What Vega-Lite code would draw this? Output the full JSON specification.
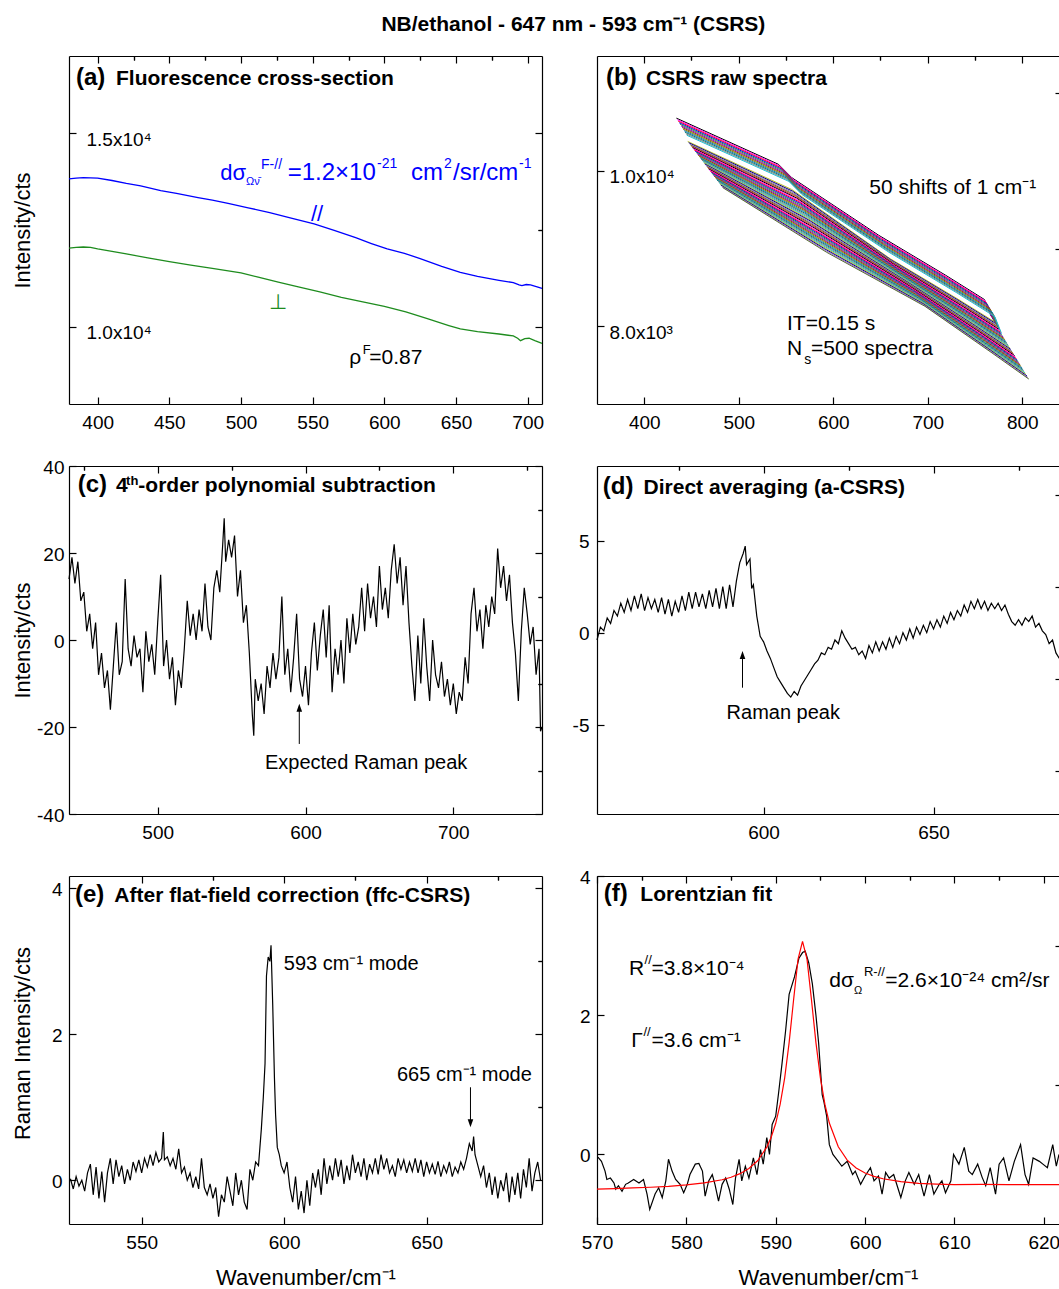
{
"$schema":"https://vega.github.io/schema/vega-lite/v6.json",
"usermeta":{"embedOptions":{"actions":false}},
"padding":{"left":11,"top":14,"right":0,"bottom":0},
"title":{"text":"NB/ethanol - 647 nm - 593 cm⁻¹ (CSRS)","font":"Liberation Sans","fontSize":21,"fontWeight":"bold","color":"#000","anchor":"middle","baseline":"alphabetic","offset":3,"dx":37},
"config":{
 "font":"Liberation Sans",
 "view":{"stroke":null},
 "axis":{"grid":false,"domainColor":"#000","domainWidth":1.2,"tickColor":"#000","tickWidth":1.2,"tickSize":-7,"labelColor":"#000","labelFont":"Liberation Sans","labelFontSize":19,"labelFlush":false,"labelOverlap":false,"titleFont":"Liberation Sans","titleFontSize":22,"titleFontWeight":"normal","titleColor":"#000"},
 "axisX":{"labelPadding":16},
 "text":{"font":"Liberation Sans","fontSize":21,"align":"left","baseline":"alphabetic","color":"#000"}
},
"resolve":{"scale":{"color":"independent"}},
"bounds":"flush",
"align":"each",
"columns":2,
"spacing":{"row":62,"column":55},
"concat":[
{"width":473,"height":348,
"resolve":{"axis":{"x":"independent","y":"independent"}},
"layer":[
{"data":{"values":[
{"p":"par","x":380,"y":13820},{"p":"par","x":385,"y":13840},{"p":"par","x":390,"y":13855},{"p":"par","x":395,"y":13850},{"p":"par","x":400,"y":13840},{"p":"par","x":410,"y":13780},{"p":"par","x":420,"y":13705},{"p":"par","x":430,"y":13640},{"p":"par","x":444,"y":13520},{"p":"par","x":455,"y":13450},{"p":"par","x":470,"y":13340},{"p":"par","x":480,"y":13270},{"p":"par","x":491,"y":13190},{"p":"par","x":505,"y":13075},{"p":"par","x":520,"y":12950},{"p":"par","x":535,"y":12810},{"p":"par","x":551,"y":12660},{"p":"par","x":565,"y":12490},{"p":"par","x":580,"y":12300},{"p":"par","x":591,"y":12150},{"p":"par","x":602,"y":12010},{"p":"par","x":614,"y":11897},{"p":"par","x":625,"y":11760},{"p":"par","x":640,"y":11560},{"p":"par","x":653,"y":11406},{"p":"par","x":665,"y":11300},{"p":"par","x":680,"y":11200},{"p":"par","x":690,"y":11140},{"p":"par","x":694,"y":11080},{"p":"par","x":696,"y":11060},{"p":"par","x":699,"y":11090},{"p":"par","x":702,"y":11080},{"p":"par","x":706,"y":11035},{"p":"par","x":710,"y":10990},
{"p":"perp","x":380,"y":12030},{"p":"perp","x":385,"y":12050},{"p":"perp","x":390,"y":12060},{"p":"perp","x":395,"y":12050},{"p":"perp","x":400,"y":12010},{"p":"perp","x":410,"y":11950},{"p":"perp","x":420,"y":11880},{"p":"perp","x":435,"y":11780},{"p":"perp","x":450,"y":11680},{"p":"perp","x":465,"y":11590},{"p":"perp","x":480,"y":11510},{"p":"perp","x":500,"y":11390},{"p":"perp","x":512,"y":11280},{"p":"perp","x":526,"y":11150},{"p":"perp","x":540,"y":11030},{"p":"perp","x":555,"y":10900},{"p":"perp","x":570,"y":10760},{"p":"perp","x":585,"y":10640},{"p":"perp","x":600,"y":10527},{"p":"perp","x":615,"y":10380},{"p":"perp","x":630,"y":10210},{"p":"perp","x":645,"y":10030},{"p":"perp","x":653,"y":9940},{"p":"perp","x":665,"y":9870},{"p":"perp","x":680,"y":9810},{"p":"perp","x":690,"y":9760},{"p":"perp","x":693,"y":9700},{"p":"perp","x":695,"y":9637},{"p":"perp","x":698,"y":9690},{"p":"perp","x":701,"y":9700},{"p":"perp","x":705,"y":9640},{"p":"perp","x":710,"y":9570}
]},
"mark":{"type":"line","strokeWidth":1.3},
"encoding":{
"x":{"field":"x","type":"quantitative","scale":{"domain":[380,710],"nice":false,"zero":false},"axis":{"values":[400,450,500,550,600,650,700],"title":null}},
"y":{"field":"y","type":"quantitative","scale":{"domain":[8000,17000],"nice":false,"zero":false},"axis":{"values":[10000,15000],"labelExpr":"datum.value == 15000 ? '1.5x10⁴' : '1.0x10⁴'","labelAlign":"left","labelPadding":-10,"labelOffset":6,"title":"Intensity/cts","titleX":-35,"titleY":174,"titleAngle":270,"titleBaseline":"bottom","titleAlign":"center"}},
"color":{"field":"p","type":"nominal","scale":{"domain":["par","perp"],"range":["#0000ff","#1e8c1e"]},"legend":null}}},
{"data":{"values":[{"x":500,"y":12000}]},"mark":{"type":"point","opacity":0},
"encoding":{"x":{"field":"x","type":"quantitative","axis":{"values":[425,475,525,575,625,675],"labels":false,"domain":false,"tickSize":-4,"title":null}},
"y":{"field":"y","type":"quantitative","axis":{"values":[12500],"labels":false,"domain":false,"tickSize":-4,"title":null}}}},
{"data":{"values":[{"x":500,"y":12000}]},"mark":{"type":"point","opacity":0},
"encoding":{"x":{"field":"x","type":"quantitative","axis":{"orient":"top","values":[400,450,500,550,600,650,700],"labels":false,"title":null}},
"y":{"field":"y","type":"quantitative","axis":{"orient":"right","values":[10000,15000],"labels":false,"title":null}}}},
{"data":{"values":[{"x":500,"y":12000}]},"mark":{"type":"point","opacity":0},
"encoding":{"x":{"field":"x","type":"quantitative","axis":{"orient":"top","values":[425,475,525,575,625,675],"labels":false,"domain":false,"tickSize":-4,"title":null}},
"y":{"field":"y","type":"quantitative","axis":{"orient":"right","values":[12500],"labels":false,"domain":false,"tickSize":-4,"title":null}}}},
{"data":{"values":[{"x":384.9,"y":16240,"t":"(a)"}]},"mark":{"type":"text","fontSize":24,"fontWeight":"bold"},
"encoding":{"x":{"field":"x","type":"quantitative","axis":null},"y":{"field":"y","type":"quantitative","axis":null},"text":{"field":"t"}}},
{"data":{"values":[{"x":412.8,"y":16245,"t":"Fluorescence cross-section"}]},"mark":{"type":"text","fontSize":21,"fontWeight":"bold"},
"encoding":{"x":{"field":"x","type":"quantitative","axis":null},"y":{"field":"y","type":"quantitative","axis":null},"text":{"field":"t"}}},
{"data":{"values":[{"x":575.6,"y":9034,"t":"ρ"},{"x":589.5,"y":9034,"t":"=0.87"}]},"mark":{"type":"text","fontSize":21},
"encoding":{"x":{"field":"x","type":"quantitative","axis":null},"y":{"field":"y","type":"quantitative","axis":null},"text":{"field":"t"}}},
{"data":{"values":[{"x":584.9,"y":9293,"t":"F"}]},"mark":{"type":"text","fontSize":13},
"encoding":{"x":{"field":"x","type":"quantitative","axis":null},"y":{"field":"y","type":"quantitative","axis":null},"text":{"field":"t"}}},
{"data":{"values":[{"x":485.6,"y":13793,"t":"dσ"},{"x":548.8,"y":12741,"t":"//"}]},"mark":{"type":"text","fontSize":22,"color":"#0000ff"},
"encoding":{"x":{"field":"x","type":"quantitative","axis":null},"y":{"field":"y","type":"quantitative","axis":null},"text":{"field":"t"}}},
{"data":{"values":[{"x":532.6,"y":13793,"t":"=1.2×10"},{"x":618.6,"y":13793,"t":"cm"},{"x":647.9,"y":13793,"t":"/sr/cm"}]},"mark":{"type":"text","fontSize":24,"color":"#0000ff"},
"encoding":{"x":{"field":"x","type":"quantitative","axis":null},"y":{"field":"y","type":"quantitative","axis":null},"text":{"field":"t"}}},
{"data":{"values":[{"x":514.0,"y":14078,"t":"F-//"},{"x":594.9,"y":14110,"t":"-21"},{"x":641.6,"y":14110,"t":"2"},{"x":694.0,"y":14110,"t":"-1"}]},"mark":{"type":"text","fontSize":14,"color":"#0000ff"},
"encoding":{"x":{"field":"x","type":"quantitative","axis":null},"y":{"field":"y","type":"quantitative","axis":null},"text":{"field":"t"}}},
{"data":{"values":[{"x":503.5,"y":13664,"t":"Ων̄"}]},"mark":{"type":"text","fontSize":11,"color":"#0000ff"},
"encoding":{"x":{"field":"x","type":"quantitative","axis":null},"y":{"field":"y","type":"quantitative","axis":null},"text":{"field":"t"}}},
{"data":{"values":[{"x":525.6,"y":10457,"t":"⊥"}]},"mark":{"type":"text","fontSize":21,"align":"center","color":"#1e8c1e"},
"encoding":{"x":{"field":"x","type":"quantitative","axis":null},"y":{"field":"y","type":"quantitative","axis":null},"text":{"field":"t"}}}
]},
{"width":462,"height":348,
"resolve":{"axis":{"x":"independent","y":"independent"}},
"layer":[
{"data":{"values":[
{"s":0,"x":434,"y":10680},{"s":0,"x":542,"y":10086},{"s":0,"x":556,"y":9915},{"s":0,"x":648,"y":9173},{"s":0,"x":719,"y":8657},{"s":0,"x":760,"y":8345},{"s":0,"x":767,"y":8130},
{"s":1,"x":435,"y":10660},{"s":1,"x":543,"y":10066},{"s":1,"x":557,"y":9895},{"s":1,"x":649,"y":9153},{"s":1,"x":720,"y":8637},{"s":1,"x":761,"y":8325},{"s":1,"x":768,"y":8110},
{"s":2,"x":436,"y":10640},{"s":2,"x":544,"y":10046},{"s":2,"x":558,"y":9875},{"s":2,"x":650,"y":9133},{"s":2,"x":721,"y":8617},{"s":2,"x":762,"y":8305},{"s":2,"x":769,"y":8090},
{"s":3,"x":437,"y":10620},{"s":3,"x":545,"y":10026},{"s":3,"x":559,"y":9855},{"s":3,"x":651,"y":9113},{"s":3,"x":722,"y":8597},{"s":3,"x":763,"y":8285},{"s":3,"x":770,"y":8070},
{"s":4,"x":438,"y":10600},{"s":4,"x":546,"y":10006},{"s":4,"x":560,"y":9835},{"s":4,"x":652,"y":9093},{"s":4,"x":723,"y":8577},{"s":4,"x":764,"y":8265},{"s":4,"x":771,"y":8050},
{"s":5,"x":439,"y":10580},{"s":5,"x":547,"y":9986},{"s":5,"x":561,"y":9815},{"s":5,"x":653,"y":9073},{"s":5,"x":724,"y":8557},{"s":5,"x":765,"y":8245},{"s":5,"x":772,"y":8030},
{"s":6,"x":440,"y":10560},{"s":6,"x":548,"y":9966},{"s":6,"x":562,"y":9795},{"s":6,"x":654,"y":9053},{"s":6,"x":725,"y":8537},{"s":6,"x":766,"y":8225},{"s":6,"x":773,"y":8010},
{"s":7,"x":441,"y":10540},{"s":7,"x":549,"y":9946},{"s":7,"x":563,"y":9775},{"s":7,"x":655,"y":9033},{"s":7,"x":726,"y":8517},{"s":7,"x":767,"y":8205},{"s":7,"x":774,"y":7990},
{"s":8,"x":442,"y":10520},{"s":8,"x":550,"y":9926},{"s":8,"x":564,"y":9755},{"s":8,"x":656,"y":9013},{"s":8,"x":727,"y":8497},{"s":8,"x":768,"y":8185},{"s":8,"x":775,"y":7970},
{"s":9,"x":443,"y":10500},{"s":9,"x":551,"y":9906},{"s":9,"x":565,"y":9735},{"s":9,"x":657,"y":8993},{"s":9,"x":728,"y":8477},{"s":9,"x":769,"y":8165},{"s":9,"x":776,"y":7950},
{"s":10,"x":444,"y":10480},{"s":10,"x":552,"y":9886},{"s":10,"x":566,"y":9715},{"s":10,"x":658,"y":8973},{"s":10,"x":729,"y":8457},{"s":10,"x":770,"y":8145},{"s":10,"x":777,"y":7930},
{"s":11,"x":445,"y":10460},{"s":11,"x":553,"y":9866},{"s":11,"x":567,"y":9695},{"s":11,"x":659,"y":8953},{"s":11,"x":730,"y":8437},{"s":11,"x":771,"y":8125},{"s":11,"x":778,"y":7910},
{"s":12,"x":446,"y":10380},{"s":12,"x":556,"y":9762},{"s":12,"x":660,"y":8873},{"s":12,"x":731,"y":8357},{"s":12,"x":770,"y":8063},
{"s":13,"x":447,"y":10364},{"s":13,"x":557,"y":9740},{"s":13,"x":661,"y":8856},{"s":13,"x":732,"y":8338},{"s":13,"x":771,"y":8043},
{"s":14,"x":448,"y":10348},{"s":14,"x":558,"y":9718},{"s":14,"x":662,"y":8840},{"s":14,"x":733,"y":8319},{"s":14,"x":772,"y":8023},
{"s":15,"x":449,"y":10332},{"s":15,"x":559,"y":9696},{"s":15,"x":663,"y":8823},{"s":15,"x":734,"y":8300},{"s":15,"x":773,"y":8003},
{"s":16,"x":450,"y":10316},{"s":16,"x":560,"y":9675},{"s":16,"x":664,"y":8807},{"s":16,"x":735,"y":8281},{"s":16,"x":774,"y":7983},
{"s":17,"x":451,"y":10300},{"s":17,"x":561,"y":9653},{"s":17,"x":665,"y":8790},{"s":17,"x":736,"y":8263},{"s":17,"x":775,"y":7963},
{"s":18,"x":452,"y":10284},{"s":18,"x":562,"y":9631},{"s":18,"x":666,"y":8773},{"s":18,"x":737,"y":8244},{"s":18,"x":776,"y":7943},
{"s":19,"x":453,"y":10268},{"s":19,"x":563,"y":9609},{"s":19,"x":667,"y":8757},{"s":19,"x":738,"y":8225},{"s":19,"x":777,"y":7923},
{"s":20,"x":454,"y":10252},{"s":20,"x":564,"y":9587},{"s":20,"x":668,"y":8740},{"s":20,"x":739,"y":8206},{"s":20,"x":778,"y":7903},
{"s":21,"x":455,"y":10236},{"s":21,"x":565,"y":9565},{"s":21,"x":669,"y":8724},{"s":21,"x":740,"y":8187},{"s":21,"x":779,"y":7883},
{"s":22,"x":456,"y":10220},{"s":22,"x":566,"y":9543},{"s":22,"x":670,"y":8707},{"s":22,"x":741,"y":8168},{"s":22,"x":780,"y":7862},
{"s":23,"x":457,"y":10203},{"s":23,"x":567,"y":9522},{"s":23,"x":671,"y":8690},{"s":23,"x":742,"y":8149},{"s":23,"x":781,"y":7842},
{"s":24,"x":458,"y":10187},{"s":24,"x":568,"y":9500},{"s":24,"x":672,"y":8674},{"s":24,"x":743,"y":8130},{"s":24,"x":782,"y":7822},
{"s":25,"x":459,"y":10171},{"s":25,"x":569,"y":9478},{"s":25,"x":673,"y":8657},{"s":25,"x":744,"y":8111},{"s":25,"x":783,"y":7802},
{"s":26,"x":460,"y":10155},{"s":26,"x":570,"y":9456},{"s":26,"x":674,"y":8641},{"s":26,"x":745,"y":8092},{"s":26,"x":784,"y":7782},
{"s":27,"x":461,"y":10139},{"s":27,"x":571,"y":9434},{"s":27,"x":675,"y":8624},{"s":27,"x":746,"y":8074},{"s":27,"x":785,"y":7762},
{"s":28,"x":462,"y":10123},{"s":28,"x":572,"y":9412},{"s":28,"x":676,"y":8607},{"s":28,"x":747,"y":8055},{"s":28,"x":786,"y":7742},
{"s":29,"x":463,"y":10107},{"s":29,"x":573,"y":9390},{"s":29,"x":677,"y":8591},{"s":29,"x":748,"y":8036},{"s":29,"x":787,"y":7722},
{"s":30,"x":464,"y":10091},{"s":30,"x":574,"y":9369},{"s":30,"x":678,"y":8574},{"s":30,"x":749,"y":8017},{"s":30,"x":788,"y":7702},
{"s":31,"x":465,"y":10075},{"s":31,"x":575,"y":9347},{"s":31,"x":679,"y":8558},{"s":31,"x":750,"y":7998},{"s":31,"x":789,"y":7682},
{"s":32,"x":466,"y":10059},{"s":32,"x":576,"y":9325},{"s":32,"x":680,"y":8541},{"s":32,"x":751,"y":7979},{"s":32,"x":790,"y":7662},
{"s":33,"x":467,"y":10043},{"s":33,"x":577,"y":9303},{"s":33,"x":681,"y":8524},{"s":33,"x":752,"y":7960},{"s":33,"x":791,"y":7642},
{"s":34,"x":468,"y":10027},{"s":34,"x":578,"y":9281},{"s":34,"x":682,"y":8508},{"s":34,"x":753,"y":7941},{"s":34,"x":792,"y":7622},
{"s":35,"x":469,"y":10011},{"s":35,"x":579,"y":9259},{"s":35,"x":683,"y":8491},{"s":35,"x":754,"y":7922},{"s":35,"x":793,"y":7602},
{"s":36,"x":470,"y":9995},{"s":36,"x":580,"y":9237},{"s":36,"x":684,"y":8475},{"s":36,"x":755,"y":7903},{"s":36,"x":794,"y":7582},
{"s":37,"x":471,"y":9979},{"s":37,"x":581,"y":9216},{"s":37,"x":685,"y":8458},{"s":37,"x":756,"y":7885},{"s":37,"x":795,"y":7562},
{"s":38,"x":472,"y":9963},{"s":38,"x":582,"y":9194},{"s":38,"x":686,"y":8441},{"s":38,"x":757,"y":7866},{"s":38,"x":796,"y":7542},
{"s":39,"x":473,"y":9947},{"s":39,"x":583,"y":9172},{"s":39,"x":687,"y":8425},{"s":39,"x":758,"y":7847},{"s":39,"x":797,"y":7522},
{"s":40,"x":474,"y":9931},{"s":40,"x":584,"y":9150},{"s":40,"x":688,"y":8408},{"s":40,"x":759,"y":7828},{"s":40,"x":798,"y":7502},
{"s":41,"x":475,"y":9915},{"s":41,"x":585,"y":9128},{"s":41,"x":689,"y":8392},{"s":41,"x":760,"y":7809},{"s":41,"x":799,"y":7482},
{"s":42,"x":476,"y":9899},{"s":42,"x":586,"y":9106},{"s":42,"x":690,"y":8375},{"s":42,"x":761,"y":7790},{"s":42,"x":800,"y":7462},
{"s":43,"x":477,"y":9882},{"s":43,"x":587,"y":9084},{"s":43,"x":691,"y":8358},{"s":43,"x":762,"y":7771},{"s":43,"x":801,"y":7441},
{"s":44,"x":478,"y":9866},{"s":44,"x":588,"y":9063},{"s":44,"x":692,"y":8342},{"s":44,"x":763,"y":7752},{"s":44,"x":802,"y":7421},
{"s":45,"x":479,"y":9850},{"s":45,"x":589,"y":9041},{"s":45,"x":693,"y":8325},{"s":45,"x":764,"y":7733},{"s":45,"x":803,"y":7401},
{"s":46,"x":480,"y":9834},{"s":46,"x":590,"y":9019},{"s":46,"x":694,"y":8309},{"s":46,"x":765,"y":7714},{"s":46,"x":804,"y":7381},
{"s":47,"x":481,"y":9818},{"s":47,"x":591,"y":8997},{"s":47,"x":695,"y":8292},{"s":47,"x":766,"y":7696},{"s":47,"x":805,"y":7361},
{"s":48,"x":482,"y":9802},{"s":48,"x":592,"y":8975},{"s":48,"x":696,"y":8275},{"s":48,"x":767,"y":7677},{"s":48,"x":806,"y":7341},
{"s":49,"x":483,"y":9786},{"s":49,"x":593,"y":8953},{"s":49,"x":697,"y":8258},{"s":49,"x":768,"y":7657},{"s":49,"x":807,"y":7321}
]},
"mark":{"type":"line","strokeWidth":1},
"encoding":{
"x":{"field":"x","type":"quantitative","scale":{"domain":[350,838.9],"nice":false,"zero":false},"axis":{"values":[400,500,600,700,800],"title":null}},
"y":{"field":"y","type":"quantitative","scale":{"domain":[7000,11480],"nice":false,"zero":false},"axis":{"values":[8000,10000],"labelExpr":"datum.value == 10000 ? '1.0x10⁴' : '8.0x10³'","labelAlign":"left","labelPadding":-5,"labelOffset":6,"title":null}},
"color":{"field":"s","type":"nominal","scale":{"range":["#000000","#ff00ff","#ff0000","#0000ff","#2ca02c","#9400d3","#8b4513","#808000","#1f77b4","#008080","#7f7f7f","#17becf","#bcbd22","#000080","#9467bd","#556b2f","#d62728"]},"legend":null}}},
{"data":{"values":[{"x":600,"y":9000}]},"mark":{"type":"point","opacity":0},
"encoding":{"x":{"field":"x","type":"quantitative","axis":{"values":[450,550,650,750],"labels":false,"domain":false,"tickSize":-4,"title":null}},
"y":{"field":"y","type":"quantitative","axis":{"values":[9000,11000],"labels":false,"domain":false,"tickSize":-4,"title":null}}}},
{"data":{"values":[{"x":600,"y":9000}]},"mark":{"type":"point","opacity":0},
"encoding":{"x":{"field":"x","type":"quantitative","axis":{"orient":"top","values":[400,500,600,700,800],"labels":false,"title":null}},
"y":{"field":"y","type":"quantitative","axis":null}}},
{"data":{"values":[{"x":600,"y":9000}]},"mark":{"type":"point","opacity":0},
"encoding":{"x":{"field":"x","type":"quantitative","axis":{"orient":"top","values":[450,550,650,750],"labels":false,"domain":false,"tickSize":-4,"title":null}},
"y":{"field":"y","type":"quantitative","axis":null}}},
{"data":{"values":[{"x":359.5,"y":11110,"t":"(b)"}]},"mark":{"type":"text","fontSize":24,"fontWeight":"bold"},
"encoding":{"x":{"field":"x","type":"quantitative","axis":null},"y":{"field":"y","type":"quantitative","axis":null},"text":{"field":"t"}}},
{"data":{"values":[{"x":401.9,"y":11110,"t":"CSRS raw spectra"}]},"mark":{"type":"text","fontSize":21,"fontWeight":"bold"},
"encoding":{"x":{"field":"x","type":"quantitative","axis":null},"y":{"field":"y","type":"quantitative","axis":null},"text":{"field":"t"}}},
{"data":{"values":[{"x":638.2,"y":9703,"t":"50 shifts of 1 cm⁻¹"},{"x":551.1,"y":7953,"t":"IT=0.15 s"},{"x":551.1,"y":7631,"t":"N"},{"x":576.5,"y":7631,"t":"=500 spectra"}]},"mark":{"type":"text","fontSize":21},
"encoding":{"x":{"field":"x","type":"quantitative","axis":null},"y":{"field":"y","type":"quantitative","axis":null},"text":{"field":"t"}}},
{"data":{"values":[{"x":569.4,"y":7515,"t":"s"}]},"mark":{"type":"text","fontSize":14},
"encoding":{"x":{"field":"x","type":"quantitative","axis":null},"y":{"field":"y","type":"quantitative","axis":null},"text":{"field":"t"}}}
]},
{"width":473,"height":348,
"resolve":{"axis":{"x":"independent","y":"independent"}},
"layer":[
{"data":{"values":[
{"x":440,"y":14},{"x":442,"y":19},{"x":444,"y":13},{"x":446,"y":18},{"x":448,"y":9},{"x":450,"y":11},{"x":452,"y":2},{"x":454,"y":6},{"x":456,"y":-2},{"x":458,"y":4},{"x":460,"y":-8},{"x":462,"y":-3},{"x":464,"y":-11},{"x":466,"y":-7},{"x":468,"y":-16},{"x":470,"y":-6},{"x":472,"y":4},{"x":474,"y":-8},{"x":476,"y":-5},{"x":478,"y":14},{"x":480,"y":-2},{"x":482,"y":-6},{"x":484,"y":1},{"x":486,"y":-4},{"x":488,"y":-2},{"x":490,"y":-12},{"x":492,"y":2},{"x":494,"y":-5},{"x":496,"y":-1},{"x":498,"y":-8},{"x":500,"y":4},{"x":502,"y":15},{"x":504,"y":-6},{"x":506,"y":0},{"x":508,"y":-9},{"x":510,"y":-4},{"x":512,"y":-15},{"x":514,"y":-7},{"x":516,"y":-11},{"x":518,"y":-2},{"x":520,"y":9},{"x":522,"y":1},{"x":524,"y":6},{"x":526,"y":0},{"x":528,"y":7},{"x":530,"y":2},{"x":532,"y":13},{"x":534,"y":3},{"x":536,"y":0},{"x":538,"y":12},{"x":540,"y":16},{"x":542,"y":11},{"x":544,"y":22},{"x":545,"y":28},{"x":546,"y":18},{"x":548,"y":23},{"x":550,"y":19},{"x":552,"y":24},{"x":554,"y":10},{"x":556,"y":16},{"x":558,"y":4},{"x":560,"y":8},{"x":562,"y":-3},{"x":564,"y":-17},{"x":565,"y":-22},{"x":566,"y":-9},{"x":568,"y":-14},{"x":570,"y":-10},{"x":572,"y":-17},{"x":574,"y":-6},{"x":576,"y":-11},{"x":578,"y":-3},{"x":580,"y":-9},{"x":582,"y":-4},{"x":584,"y":10},{"x":586,"y":-8},{"x":588,"y":-2},{"x":590,"y":-12},{"x":592,"y":-4},{"x":594,"y":6},{"x":596,"y":-9},{"x":598,"y":-13},{"x":600,"y":-6},{"x":602,"y":-15},{"x":604,"y":-3},{"x":606,"y":4},{"x":608,"y":-7},{"x":610,"y":1},{"x":612,"y":7},{"x":614,"y":-4},{"x":616,"y":8},{"x":618,"y":-12},{"x":620,"y":-2},{"x":622,"y":-8},{"x":624,"y":0},{"x":626,"y":-10},{"x":628,"y":5},{"x":630,"y":-3},{"x":632,"y":6},{"x":634,"y":-1},{"x":636,"y":3},{"x":638,"y":12},{"x":640,"y":2},{"x":642,"y":13},{"x":644,"y":5},{"x":646,"y":10},{"x":648,"y":3},{"x":650,"y":17},{"x":652,"y":7},{"x":654,"y":12},{"x":656,"y":5},{"x":658,"y":16},{"x":660,"y":22},{"x":662,"y":13},{"x":664,"y":19},{"x":666,"y":8},{"x":668,"y":17},{"x":670,"y":4},{"x":672,"y":-6},{"x":674,"y":-14},{"x":676,"y":1},{"x":678,"y":-10},{"x":680,"y":5},{"x":682,"y":-6},{"x":684,"y":-14},{"x":686,"y":0},{"x":688,"y":-8},{"x":690,"y":-11},{"x":692,"y":-5},{"x":694,"y":-13},{"x":696,"y":-9},{"x":698,"y":-15},{"x":700,"y":-10},{"x":702,"y":-17},{"x":704,"y":-12},{"x":706,"y":-14},{"x":708,"y":-4},{"x":710,"y":-10},{"x":712,"y":6},{"x":714,"y":12},{"x":716,"y":2},{"x":718,"y":7},{"x":720,"y":-2},{"x":722,"y":8},{"x":724,"y":3},{"x":726,"y":10},{"x":728,"y":6},{"x":730,"y":21},{"x":732,"y":12},{"x":734,"y":17},{"x":736,"y":9},{"x":738,"y":15},{"x":740,"y":4},{"x":742,"y":-3},{"x":744,"y":-14},{"x":746,"y":2},{"x":748,"y":12},{"x":750,"y":6},{"x":752,"y":-1},{"x":754,"y":3},{"x":756,"y":-8},{"x":758,"y":-2},{"x":759,"y":-21},{"x":760,"y":-20}
]},
"mark":{"type":"line","strokeWidth":1.2,"color":"#000"},
"encoding":{
"x":{"field":"x","type":"quantitative","scale":{"domain":[440,760],"nice":false,"zero":false},"axis":{"values":[500,600,700],"title":null}},
"y":{"field":"y","type":"quantitative","scale":{"domain":[-40,40],"nice":false,"zero":false},"axis":{"values":[-40,-20,0,20,40],"labelExpr":"datum.value + ''","labelPadding":12,"labelOffset":1,"title":"Intensity/cts","titleX":-35,"titleY":174,"titleAngle":270,"titleBaseline":"bottom","titleAlign":"center"}}}},
{"data":{"values":[{"x":600,"y":0}]},"mark":{"type":"point","opacity":0},
"encoding":{"x":{"field":"x","type":"quantitative","axis":{"values":[450,550,650,750],"labels":false,"domain":false,"tickSize":-4,"title":null}},
"y":{"field":"y","type":"quantitative","axis":{"values":[-30,-10,10,30],"labels":false,"domain":false,"tickSize":-4,"title":null}}}},
{"data":{"values":[{"x":600,"y":0}]},"mark":{"type":"point","opacity":0},
"encoding":{"x":{"field":"x","type":"quantitative","axis":{"orient":"top","values":[500,600,700],"labels":false,"title":null}},
"y":{"field":"y","type":"quantitative","axis":{"orient":"right","values":[-40,-20,0,20,40],"labels":false,"title":null}}}},
{"data":{"values":[{"x":600,"y":0}]},"mark":{"type":"point","opacity":0},
"encoding":{"x":{"field":"x","type":"quantitative","axis":{"orient":"top","values":[450,550,650,750],"labels":false,"domain":false,"tickSize":-4,"title":null}},
"y":{"field":"y","type":"quantitative","axis":{"orient":"right","values":[-30,-10,10,30],"labels":false,"domain":false,"tickSize":-4,"title":null}}}},
{"data":{"values":[{"x":445.9,"y":33.95,"t":"(c)"}]},"mark":{"type":"text","fontSize":24,"fontWeight":"bold"},
"encoding":{"x":{"field":"x","type":"quantitative","axis":null},"y":{"field":"y","type":"quantitative","axis":null},"text":{"field":"t"}}},
{"data":{"values":[{"x":471.8,"y":33.95,"t":"4"},{"x":486.9,"y":33.95,"t":"-order polynomial subtraction"}]},"mark":{"type":"text","fontSize":21,"fontWeight":"bold"},
"encoding":{"x":{"field":"x","type":"quantitative","axis":null},"y":{"field":"y","type":"quantitative","axis":null},"text":{"field":"t"}}},
{"data":{"values":[{"x":478.6,"y":35.7,"t":"th"}]},"mark":{"type":"text","fontSize":13,"fontWeight":"bold"},
"encoding":{"x":{"field":"x","type":"quantitative","axis":null},"y":{"field":"y","type":"quantitative","axis":null},"text":{"field":"t"}}},
{"data":{"values":[{"x":641,"y":-29.66,"t":"Expected Raman peak"}]},"mark":{"type":"text","fontSize":20,"align":"center"},
"encoding":{"x":{"field":"x","type":"quantitative","axis":null},"y":{"field":"y","type":"quantitative","axis":null},"text":{"field":"t"}}},
{"data":{"values":[{"x":595.8,"y":-23.9,"y2":-16}]},"mark":{"type":"rule","color":"#000","strokeWidth":1},
"encoding":{"x":{"field":"x","type":"quantitative","axis":null},"y":{"field":"y","type":"quantitative","axis":null},"y2":{"field":"y2"}}},
{"data":{"values":[{"x":595.8,"y":-15.6}]},"mark":{"type":"point","shape":"M0,-1L0.7,1L-0.7,1Z","size":64,"filled":true,"color":"#000","opacity":1},
"encoding":{"x":{"field":"x","type":"quantitative","axis":null},"y":{"field":"y","type":"quantitative","axis":null}}}
]},
{"width":462,"height":348,
"resolve":{"axis":{"x":"independent","y":"independent"}},
"layer":[
{"data":{"values":[
{"x":551,"y":-0.4},{"x":552,"y":0.3},{"x":553,"y":0.1},{"x":554,"y":0.8},{"x":555,"y":0.5},{"x":556,"y":1.2},{"x":557,"y":0.9},{"x":558,"y":1.6},{"x":559,"y":1.1},{"x":560,"y":1.8},{"x":561,"y":1.2},{"x":562,"y":2.0},{"x":563,"y":1.3},{"x":564,"y":2.1},{"x":565,"y":1.2},{"x":566,"y":1.9},{"x":567,"y":1.3},{"x":568,"y":1.8},{"x":569,"y":1.1},{"x":570,"y":1.9},{"x":571,"y":1.0},{"x":572,"y":1.8},{"x":573,"y":0.9},{"x":574,"y":1.7},{"x":575,"y":1.1},{"x":576,"y":2.0},{"x":577,"y":1.2},{"x":578,"y":2.2},{"x":579,"y":1.3},{"x":580,"y":2.2},{"x":581,"y":1.4},{"x":582,"y":2.1},{"x":583,"y":1.3},{"x":584,"y":2.3},{"x":585,"y":1.4},{"x":586,"y":2.4},{"x":587,"y":1.3},{"x":588,"y":2.5},{"x":589,"y":1.3},{"x":590,"y":2.6},{"x":591,"y":1.4},{"x":592,"y":2.8},{"x":593,"y":3.8},{"x":594,"y":4.3},{"x":594.6,"y":4.7},{"x":595,"y":3.7},{"x":596,"y":4.0},{"x":596.5,"y":2.4},{"x":597,"y":2.6},{"x":598,"y":0.9},{"x":599,"y":-0.2},{"x":600,"y":-0.5},{"x":601,"y":-1.0},{"x":602,"y":-1.4},{"x":603,"y":-1.9},{"x":604,"y":-2.4},{"x":605,"y":-2.7},{"x":606,"y":-3.0},{"x":607,"y":-3.3},{"x":608,"y":-3.5},{"x":609,"y":-3.2},{"x":610,"y":-3.4},{"x":611,"y":-2.9},{"x":612,"y":-2.6},{"x":613,"y":-2.3},{"x":614,"y":-2.0},{"x":615,"y":-1.7},{"x":616,"y":-1.5},{"x":617,"y":-1.1},{"x":618,"y":-1.2},{"x":619,"y":-0.8},{"x":620,"y":-0.9},{"x":621,"y":-0.4},{"x":622,"y":-0.6},{"x":623,"y":0.1},{"x":624,"y":-0.3},{"x":625,"y":-0.6},{"x":626,"y":-0.9},{"x":627,"y":-0.8},{"x":628,"y":-1.2},{"x":629,"y":-1.0},{"x":630,"y":-1.4},{"x":631,"y":-0.7},{"x":632,"y":-1.1},{"x":633,"y":-0.5},{"x":634,"y":-1.0},{"x":635,"y":-0.5},{"x":636,"y":-0.9},{"x":637,"y":-0.3},{"x":638,"y":-0.8},{"x":639,"y":-0.2},{"x":640,"y":-0.6},{"x":641,"y":0.0},{"x":642,"y":-0.4},{"x":643,"y":0.2},{"x":644,"y":-0.3},{"x":645,"y":0.3},{"x":646,"y":-0.1},{"x":647,"y":0.4},{"x":648,"y":0.0},{"x":649,"y":0.6},{"x":650,"y":0.2},{"x":651,"y":0.7},{"x":652,"y":0.3},{"x":653,"y":0.9},{"x":654,"y":0.5},{"x":655,"y":1.1},{"x":656,"y":0.7},{"x":657,"y":1.2},{"x":658,"y":0.9},{"x":659,"y":1.5},{"x":660,"y":1.1},{"x":661,"y":1.7},{"x":662,"y":1.3},{"x":663,"y":1.8},{"x":664,"y":1.3},{"x":665,"y":1.7},{"x":666,"y":1.2},{"x":667,"y":1.6},{"x":668,"y":1.3},{"x":669,"y":1.6},{"x":670,"y":1.2},{"x":671,"y":1.5},{"x":672,"y":1.0},{"x":673,"y":0.6},{"x":674,"y":0.4},{"x":675,"y":0.7},{"x":676,"y":0.4},{"x":677,"y":0.8},{"x":678,"y":0.6},{"x":679,"y":0.9},{"x":680,"y":0.3},{"x":681,"y":0.5},{"x":682,"y":0.1},{"x":683,"y":-0.1},{"x":684,"y":-0.6},{"x":685,"y":-0.4},{"x":686,"y":-1.1},{"x":687,"y":-1.4}
]},
"mark":{"type":"line","strokeWidth":1.2,"color":"#000"},
"encoding":{
"x":{"field":"x","type":"quantitative","scale":{"domain":[551,686.9],"nice":false,"zero":false},"axis":{"values":[600,650],"title":null}},
"y":{"field":"y","type":"quantitative","scale":{"domain":[-9.85,9.05],"nice":false,"zero":false},"axis":{"values":[-5,0,5],"labelExpr":"datum.value + ''","labelPadding":15,"labelOffset":1,"title":null}}}},
{"data":{"values":[{"x":600,"y":0}]},"mark":{"type":"point","opacity":0},
"encoding":{"x":{"field":"x","type":"quantitative","axis":{"values":[575,625,675],"labels":false,"domain":false,"tickSize":-4,"title":null}},
"y":{"field":"y","type":"quantitative","axis":{"values":[-7.5,-2.5,2.5,7.5],"labels":false,"domain":false,"tickSize":-4,"title":null}}}},
{"data":{"values":[{"x":600,"y":0}]},"mark":{"type":"point","opacity":0},
"encoding":{"x":{"field":"x","type":"quantitative","axis":{"orient":"top","values":[600,650],"labels":false,"title":null}},
"y":{"field":"y","type":"quantitative","axis":null}}},
{"data":{"values":[{"x":600,"y":0}]},"mark":{"type":"point","opacity":0},
"encoding":{"x":{"field":"x","type":"quantitative","axis":{"orient":"top","values":[575,625,675],"labels":false,"domain":false,"tickSize":-4,"title":null}},
"y":{"field":"y","type":"quantitative","axis":null}}},
{"data":{"values":[{"x":552.7,"y":7.51,"t":"(d)"}]},"mark":{"type":"text","fontSize":24,"fontWeight":"bold"},
"encoding":{"x":{"field":"x","type":"quantitative","axis":null},"y":{"field":"y","type":"quantitative","axis":null},"text":{"field":"t"}}},
{"data":{"values":[{"x":564.7,"y":7.51,"t":"Direct averaging (a-CSRS)"}]},"mark":{"type":"text","fontSize":21,"fontWeight":"bold"},
"encoding":{"x":{"field":"x","type":"quantitative","axis":null},"y":{"field":"y","type":"quantitative","axis":null},"text":{"field":"t"}}},
{"data":{"values":[{"x":605.8,"y":-4.71,"t":"Raman peak"}]},"mark":{"type":"text","fontSize":20,"align":"center"},
"encoding":{"x":{"field":"x","type":"quantitative","axis":null},"y":{"field":"y","type":"quantitative","axis":null},"text":{"field":"t"}}},
{"data":{"values":[{"x":593.8,"y":-2.99,"y2":-1.3}]},"mark":{"type":"rule","color":"#000","strokeWidth":1},
"encoding":{"x":{"field":"x","type":"quantitative","axis":null},"y":{"field":"y","type":"quantitative","axis":null},"y2":{"field":"y2"}}},
{"data":{"values":[{"x":593.8,"y":-1.22}]},"mark":{"type":"point","shape":"M0,-1L0.7,1L-0.7,1Z","size":64,"filled":true,"color":"#000","opacity":1},
"encoding":{"x":{"field":"x","type":"quantitative","axis":null},"y":{"field":"y","type":"quantitative","axis":null}}}
]},
{"width":473,"height":348,
"resolve":{"axis":{"x":"independent","y":"independent"}},
"layer":[
{"data":{"values":[
{"x":525,"y":0.02},{"x":526,"y":-0.12},{"x":527,"y":0.05},{"x":528,"y":-0.08},{"x":529,"y":0.0},{"x":530,"y":-0.15},{"x":531,"y":0.1},{"x":532,"y":0.22},{"x":533,"y":-0.2},{"x":534,"y":0.18},{"x":535,"y":-0.25},{"x":536,"y":0.12},{"x":537,"y":-0.3},{"x":538,"y":0.1},{"x":539,"y":0.3},{"x":540,"y":-0.05},{"x":541,"y":0.28},{"x":542,"y":0.05},{"x":543,"y":0.2},{"x":544,"y":-0.05},{"x":545,"y":0.15},{"x":546,"y":0.0},{"x":547,"y":0.25},{"x":548,"y":0.12},{"x":549,"y":0.28},{"x":550,"y":0.1},{"x":551,"y":0.3},{"x":552,"y":0.18},{"x":553,"y":0.35},{"x":554,"y":0.2},{"x":555,"y":0.38},{"x":556,"y":0.25},{"x":557,"y":0.3},{"x":557.6,"y":0.66},{"x":558,"y":0.28},{"x":559,"y":0.32},{"x":560,"y":0.2},{"x":561,"y":0.3},{"x":562,"y":0.15},{"x":563,"y":0.43},{"x":564,"y":0.1},{"x":565,"y":0.18},{"x":566,"y":0.0},{"x":567,"y":0.1},{"x":568,"y":-0.1},{"x":569,"y":0.05},{"x":570,"y":-0.12},{"x":571,"y":0.3},{"x":572,"y":-0.1},{"x":573,"y":-0.2},{"x":574,"y":-0.05},{"x":575,"y":-0.25},{"x":576,"y":-0.1},{"x":577,"y":-0.5},{"x":578,"y":-0.2},{"x":579,"y":-0.3},{"x":580,"y":0.05},{"x":581,"y":-0.15},{"x":582,"y":-0.35},{"x":583,"y":0.1},{"x":584,"y":-0.2},{"x":585,"y":0.0},{"x":586,"y":-0.3},{"x":587,"y":-0.4},{"x":588,"y":0.15},{"x":589,"y":0.0},{"x":590,"y":0.25},{"x":591,"y":0.2},{"x":591.5,"y":0.45},{"x":592,"y":0.7},{"x":592.7,"y":1.14},{"x":593.3,"y":1.6},{"x":593.8,"y":2.8},{"x":594.4,"y":3.06},{"x":595,"y":3.0},{"x":595.4,"y":3.22},{"x":596,"y":2.4},{"x":596.6,"y":1.4},{"x":597,"y":0.9},{"x":597.6,"y":0.45},{"x":598.3,"y":0.35},{"x":599,"y":0.2},{"x":600,"y":0.1},{"x":601,"y":0.25},{"x":602,"y":-0.1},{"x":603,"y":-0.3},{"x":604,"y":0.05},{"x":605,"y":-0.4},{"x":606,"y":-0.15},{"x":607,"y":-0.45},{"x":608,"y":0.0},{"x":609,"y":-0.35},{"x":610,"y":0.1},{"x":611,"y":-0.1},{"x":612,"y":0.15},{"x":613,"y":-0.2},{"x":614,"y":0.3},{"x":615,"y":-0.05},{"x":616,"y":0.2},{"x":617,"y":0.0},{"x":618,"y":0.3},{"x":619,"y":0.05},{"x":620,"y":0.28},{"x":621,"y":-0.05},{"x":622,"y":0.2},{"x":623,"y":0.0},{"x":624,"y":0.35},{"x":625,"y":0.1},{"x":626,"y":0.25},{"x":627,"y":0.05},{"x":628,"y":0.3},{"x":629,"y":0.0},{"x":630,"y":0.22},{"x":631,"y":0.1},{"x":632,"y":0.3},{"x":633,"y":0.08},{"x":634,"y":0.35},{"x":635,"y":0.15},{"x":636,"y":0.3},{"x":637,"y":0.1},{"x":638,"y":0.2},{"x":639,"y":0.05},{"x":640,"y":0.3},{"x":641,"y":0.15},{"x":642,"y":0.28},{"x":643,"y":0.1},{"x":644,"y":0.25},{"x":645,"y":0.12},{"x":646,"y":0.3},{"x":647,"y":0.1},{"x":648,"y":0.28},{"x":649,"y":0.05},{"x":650,"y":0.25},{"x":651,"y":0.1},{"x":652,"y":0.22},{"x":653,"y":0.08},{"x":654,"y":0.26},{"x":655,"y":0.05},{"x":656,"y":0.2},{"x":657,"y":0.1},{"x":658,"y":0.25},{"x":659,"y":0.05},{"x":660,"y":0.18},{"x":661,"y":0.1},{"x":662,"y":0.25},{"x":663,"y":0.15},{"x":664,"y":0.3},{"x":665,"y":0.5},{"x":666,"y":0.4},{"x":666.5,"y":0.6},{"x":667,"y":0.35},{"x":668,"y":0.2},{"x":669,"y":0.05},{"x":670,"y":0.2},{"x":671,"y":-0.1},{"x":672,"y":0.1},{"x":673,"y":-0.2},{"x":674,"y":0.05},{"x":675,"y":-0.25},{"x":676,"y":0.0},{"x":677,"y":-0.15},{"x":678,"y":0.1},{"x":679,"y":-0.3},{"x":680,"y":0.05},{"x":681,"y":-0.2},{"x":682,"y":0.1},{"x":683,"y":-0.25},{"x":684,"y":0.15},{"x":685,"y":-0.1},{"x":686,"y":0.3},{"x":687,"y":-0.15},{"x":688,"y":0.1},{"x":689,"y":0.25},{"x":690,"y":0.0}
]},
"mark":{"type":"line","strokeWidth":1.2,"color":"#000"},
"encoding":{
"x":{"field":"x","type":"quantitative","scale":{"domain":[524.5,690.5],"nice":false,"zero":false},"axis":{"values":[550,600,650],"title":"Wavenumber/cm⁻¹","titleY":60,"titleBaseline":"alphabetic"}},
"y":{"field":"y","type":"quantitative","scale":{"domain":[-0.6,4.17],"nice":false,"zero":false},"axis":{"values":[0,2,4],"labelPadding":14,"labelOffset":1,"title":"Raman Intensity/cts","titleX":-35,"titleY":167,"titleAngle":270,"titleBaseline":"bottom","titleAlign":"center"}}}},
{"data":{"values":[{"x":600,"y":1}]},"mark":{"type":"point","opacity":0},
"encoding":{"x":{"field":"x","type":"quantitative","axis":{"values":[575,625,675],"labels":false,"domain":false,"tickSize":-4,"title":null}},
"y":{"field":"y","type":"quantitative","axis":{"values":[1,3],"labels":false,"domain":false,"tickSize":-4,"title":null}}}},
{"data":{"values":[{"x":600,"y":1}]},"mark":{"type":"point","opacity":0},
"encoding":{"x":{"field":"x","type":"quantitative","axis":{"orient":"top","values":[550,600,650],"labels":false,"title":null}},
"y":{"field":"y","type":"quantitative","axis":{"orient":"right","values":[0,2,4],"labels":false,"title":null}}}},
{"data":{"values":[{"x":600,"y":1}]},"mark":{"type":"point","opacity":0},
"encoding":{"x":{"field":"x","type":"quantitative","axis":{"orient":"top","values":[575,625,675],"labels":false,"domain":false,"tickSize":-4,"title":null}},
"y":{"field":"y","type":"quantitative","axis":{"orient":"right","values":[1,3],"labels":false,"domain":false,"tickSize":-4,"title":null}}}},
{"data":{"values":[{"x":526.6,"y":3.81,"t":"(e)"}]},"mark":{"type":"text","fontSize":24,"fontWeight":"bold"},
"encoding":{"x":{"field":"x","type":"quantitative","axis":null},"y":{"field":"y","type":"quantitative","axis":null},"text":{"field":"t"}}},
{"data":{"values":[{"x":540.4,"y":3.81,"t":"After flat-field correction (ffc-CSRS)"}]},"mark":{"type":"text","fontSize":21,"fontWeight":"bold"},
"encoding":{"x":{"field":"x","type":"quantitative","axis":null},"y":{"field":"y","type":"quantitative","axis":null},"text":{"field":"t"}}},
{"data":{"values":[{"x":599.9,"y":2.88,"t":"593 cm⁻¹ mode"},{"x":639.6,"y":1.364,"t":"665 cm⁻¹ mode"}]},"mark":{"type":"text","fontSize":20},
"encoding":{"x":{"field":"x","type":"quantitative","axis":null},"y":{"field":"y","type":"quantitative","axis":null},"text":{"field":"t"}}},
{"data":{"values":[{"x":665.4,"y":1.274,"y2":0.8}]},"mark":{"type":"rule","color":"#000","strokeWidth":1},
"encoding":{"x":{"field":"x","type":"quantitative","axis":null},"y":{"field":"y","type":"quantitative","axis":null},"y2":{"field":"y2"}}},
{"data":{"values":[{"x":665.4,"y":0.781}]},"mark":{"type":"point","shape":"M0,1L0.7,-1L-0.7,-1Z","size":64,"filled":true,"color":"#000","opacity":1},
"encoding":{"x":{"field":"x","type":"quantitative","axis":null},"y":{"field":"y","type":"quantitative","axis":null}}}
]},
{"width":462,"height":348,
"resolve":{"axis":{"x":"independent","y":"independent"}},
"layer":[
{"data":{"values":[
{"k":"obs","x":570.1,"y":-0.04},{"k":"obs","x":570.5,"y":-0.1},{"k":"obs","x":570.9,"y":-0.24},{"k":"obs","x":571.1,"y":-0.36},{"k":"obs","x":571.5,"y":-0.34},{"k":"obs","x":571.9,"y":-0.41},{"k":"obs","x":572.1,"y":-0.5},{"k":"obs","x":572.4,"y":-0.45},{"k":"obs","x":572.8,"y":-0.53},{"k":"obs","x":573.2,"y":-0.43},{"k":"obs","x":573.5,"y":-0.41},{"k":"obs","x":574.1,"y":-0.36},{"k":"obs","x":574.7,"y":-0.41},{"k":"obs","x":575.2,"y":-0.36},{"k":"obs","x":575.6,"y":-0.57},{"k":"obs","x":575.9,"y":-0.79},{"k":"obs","x":576.5,"y":-0.57},{"k":"obs","x":576.9,"y":-0.48},{"k":"obs","x":577.3,"y":-0.62},{"k":"obs","x":577.7,"y":-0.38},{"k":"obs","x":578.0,"y":-0.07},{"k":"obs","x":578.4,"y":-0.24},{"k":"obs","x":578.8,"y":-0.36},{"k":"obs","x":579.3,"y":-0.43},{"k":"obs","x":579.7,"y":-0.55},{"k":"obs","x":580.1,"y":-0.43},{"k":"obs","x":580.4,"y":-0.29},{"k":"obs","x":581.0,"y":-0.14},{"k":"obs","x":581.4,"y":-0.13},{"k":"obs","x":581.8,"y":-0.24},{"k":"obs","x":582.1,"y":-0.6},{"k":"obs","x":582.5,"y":-0.38},{"k":"obs","x":582.9,"y":-0.29},{"k":"obs","x":583.2,"y":-0.43},{"k":"obs","x":583.6,"y":-0.67},{"k":"obs","x":584.0,"y":-0.43},{"k":"obs","x":584.4,"y":-0.34},{"k":"obs","x":584.8,"y":-0.5},{"k":"obs","x":585.2,"y":-0.72},{"k":"obs","x":585.5,"y":-0.34},{"k":"obs","x":585.9,"y":-0.07},{"k":"obs","x":586.2,"y":-0.38},{"k":"obs","x":586.6,"y":-0.17},{"k":"obs","x":587.0,"y":-0.34},{"k":"obs","x":587.5,"y":-0.05},{"k":"obs","x":587.9,"y":-0.29},{"k":"obs","x":588.3,"y":0.07},{"k":"obs","x":588.6,"y":-0.14},{"k":"obs","x":589.0,"y":0.24},{"k":"obs","x":589.3,"y":0.0},{"k":"obs","x":589.6,"y":0.43},{"k":"obs","x":590.0,"y":0.55},{"k":"obs","x":590.3,"y":0.86},{"k":"obs","x":590.7,"y":1.3},{"k":"obs","x":591.1,"y":1.77},{"k":"obs","x":591.5,"y":2.3},{"k":"obs","x":592.1,"y":2.55},{"k":"obs","x":592.6,"y":2.82},{"k":"obs","x":593.0,"y":2.9},{"k":"obs","x":593.3,"y":2.92},{"k":"obs","x":593.7,"y":2.75},{"k":"obs","x":594.1,"y":2.45},{"k":"obs","x":594.5,"y":2.0},{"k":"obs","x":594.8,"y":1.6},{"k":"obs","x":595.2,"y":0.86},{"k":"obs","x":595.4,"y":0.75},{"k":"obs","x":595.7,"y":0.55},{"k":"obs","x":596.0,"y":0.14},{"k":"obs","x":596.4,"y":0.0},{"k":"obs","x":596.7,"y":-0.05},{"k":"obs","x":597.0,"y":-0.1},{"k":"obs","x":597.4,"y":-0.17},{"k":"obs","x":598.0,"y":-0.1},{"k":"obs","x":598.6,"y":-0.29},{"k":"obs","x":598.9,"y":-0.24},{"k":"obs","x":599.5,"y":-0.43},{"k":"obs","x":600.0,"y":-0.31},{"k":"obs","x":600.6,"y":-0.19},{"k":"obs","x":601.0,"y":-0.38},{"k":"obs","x":601.5,"y":-0.31},{"k":"obs","x":601.9,"y":-0.57},{"k":"obs","x":602.3,"y":-0.26},{"k":"obs","x":602.7,"y":-0.34},{"k":"obs","x":603.2,"y":-0.29},{"k":"obs","x":604.0,"y":-0.62},{"k":"obs","x":604.5,"y":-0.38},{"k":"obs","x":604.9,"y":-0.26},{"k":"obs","x":605.5,"y":-0.43},{"k":"obs","x":606.0,"y":-0.29},{"k":"obs","x":606.6,"y":-0.6},{"k":"obs","x":607.2,"y":-0.29},{"k":"obs","x":607.7,"y":-0.57},{"k":"obs","x":608.3,"y":-0.43},{"k":"obs","x":608.6,"y":-0.38},{"k":"obs","x":609.0,"y":-0.55},{"k":"obs","x":609.6,"y":-0.38},{"k":"obs","x":609.9,"y":0.0},{"k":"obs","x":610.5,"y":-0.14},{"k":"obs","x":611.1,"y":0.1},{"k":"obs","x":611.6,"y":-0.24},{"k":"obs","x":612.0,"y":-0.29},{"k":"obs","x":612.6,"y":-0.14},{"k":"obs","x":613.1,"y":-0.33},{"k":"obs","x":613.5,"y":-0.45},{"k":"obs","x":614.0,"y":-0.19},{"k":"obs","x":614.6,"y":-0.57},{"k":"obs","x":615.0,"y":-0.14},{"k":"obs","x":615.5,"y":-0.05},{"k":"obs","x":616.1,"y":-0.38},{"k":"obs","x":616.7,"y":-0.1},{"k":"obs","x":617.4,"y":0.14},{"k":"obs","x":617.9,"y":-0.29},{"k":"obs","x":618.3,"y":-0.43},{"k":"obs","x":618.8,"y":-0.05},{"k":"obs","x":619.5,"y":-0.1},{"k":"obs","x":619.9,"y":-0.14},{"k":"obs","x":620.4,"y":-0.19},{"k":"obs","x":621.0,"y":0.14},{"k":"obs","x":621.4,"y":-0.17},{"k":"obs","x":621.7,"y":0.0},
{"k":"fit","x":570,"y":-0.498},{"k":"fit","x":572,"y":-0.491},{"k":"fit","x":574,"y":-0.482},{"k":"fit","x":576,"y":-0.472},{"k":"fit","x":578,"y":-0.459},{"k":"fit","x":580,"y":-0.439},{"k":"fit","x":582,"y":-0.41},{"k":"fit","x":584,"y":-0.364},{"k":"fit","x":585,"y":-0.328},{"k":"fit","x":586,"y":-0.277},{"k":"fit","x":587,"y":-0.203},{"k":"fit","x":588,"y":-0.088},{"k":"fit","x":589,"y":0.105},{"k":"fit","x":589.5,"y":0.25},{"k":"fit","x":590,"y":0.447},{"k":"fit","x":590.5,"y":0.721},{"k":"fit","x":591,"y":1.097},{"k":"fit","x":591.5,"y":1.605},{"k":"fit","x":592,"y":2.222},{"k":"fit","x":592.5,"y":2.807},{"k":"fit","x":593,"y":3.06},{"k":"fit","x":593.5,"y":2.805},{"k":"fit","x":594,"y":2.222},{"k":"fit","x":594.5,"y":1.606},{"k":"fit","x":595,"y":1.098},{"k":"fit","x":595.5,"y":0.722},{"k":"fit","x":596,"y":0.45},{"k":"fit","x":597,"y":0.109},{"k":"fit","x":598,"y":-0.082},{"k":"fit","x":599,"y":-0.195},{"k":"fit","x":600,"y":-0.268},{"k":"fit","x":601,"y":-0.316},{"k":"fit","x":602,"y":-0.35},{"k":"fit","x":604,"y":-0.392},{"k":"fit","x":606,"y":-0.416},{"k":"fit","x":608,"y":-0.427},{"k":"fit","x":610,"y":-0.434},{"k":"fit","x":613,"y":-0.4315},{"k":"fit","x":616,"y":-0.434},{"k":"fit","x":619,"y":-0.4345},{"k":"fit","x":621.7,"y":-0.433}
]},
"mark":{"type":"line","strokeWidth":1.2},
"encoding":{
"x":{"field":"x","type":"quantitative","scale":{"domain":[570,621.7],"nice":false,"zero":false},"axis":{"values":[570,580,590,600,610,620],"title":"Wavenumber/cm⁻¹","titleY":60,"titleBaseline":"alphabetic"}},
"y":{"field":"y","type":"quantitative","scale":{"domain":[-1,4],"nice":false,"zero":false},"axis":{"values":[0,2,4],"labelPadding":14,"labelOffset":1,"title":null}},
"color":{"field":"k","type":"nominal","scale":{"domain":["obs","fit"],"range":["#000000","#ff0000"]},"legend":null}}},
{"data":{"values":[{"x":600,"y":1}]},"mark":{"type":"point","opacity":0},
"encoding":{"x":{"field":"x","type":"quantitative","axis":{"values":[575,585,595,605,615],"labels":false,"domain":false,"tickSize":-4,"title":null}},
"y":{"field":"y","type":"quantitative","axis":{"values":[1,3],"labels":false,"domain":false,"tickSize":-4,"title":null}}}},
{"data":{"values":[{"x":600,"y":1}]},"mark":{"type":"point","opacity":0},
"encoding":{"x":{"field":"x","type":"quantitative","axis":{"orient":"top","values":[570,580,590,600,610,620],"labels":false,"title":null}},
"y":{"field":"y","type":"quantitative","axis":null}}},
{"data":{"values":[{"x":600,"y":1}]},"mark":{"type":"point","opacity":0},
"encoding":{"x":{"field":"x","type":"quantitative","axis":{"orient":"top","values":[575,585,595,605,615],"labels":false,"domain":false,"tickSize":-4,"title":null}},
"y":{"field":"y","type":"quantitative","axis":null}}},
{"data":{"values":[{"x":570.75,"y":3.645,"t":"(f)"}]},"mark":{"type":"text","fontSize":24,"fontWeight":"bold"},
"encoding":{"x":{"field":"x","type":"quantitative","axis":null},"y":{"field":"y","type":"quantitative","axis":null},"text":{"field":"t"}}},
{"data":{"values":[{"x":574.85,"y":3.645,"t":"Lorentzian fit"}]},"mark":{"type":"text","fontSize":21,"fontWeight":"bold"},
"encoding":{"x":{"field":"x","type":"quantitative","axis":null},"y":{"field":"y","type":"quantitative","axis":null},"text":{"field":"t"}}},
{"data":{"values":[{"x":573.58,"y":2.578,"t":"R"},{"x":576.1,"y":2.578,"t":"=3.8×10⁻⁴"},{"x":573.84,"y":1.539,"t":"Γ"},{"x":576.1,"y":1.539,"t":"=3.6 cm⁻¹"},{"x":596.0,"y":2.41,"t":"dσ"},{"x":602.25,"y":2.41,"t":"=2.6×10⁻²⁴ cm²/sr"}]},"mark":{"type":"text","fontSize":21},
"encoding":{"x":{"field":"x","type":"quantitative","axis":null},"y":{"field":"y","type":"quantitative","axis":null},"text":{"field":"t"}}},
{"data":{"values":[{"x":575.32,"y":2.736,"t":"//"},{"x":575.2,"y":1.706,"t":"//"},{"x":599.87,"y":2.568,"t":"R-//"}]},"mark":{"type":"text","fontSize":13},
"encoding":{"x":{"field":"x","type":"quantitative","axis":null},"y":{"field":"y","type":"quantitative","axis":null},"text":{"field":"t"}}},
{"data":{"values":[{"x":598.75,"y":2.305,"t":"Ω"}]},"mark":{"type":"text","fontSize":11},
"encoding":{"x":{"field":"x","type":"quantitative","axis":null},"y":{"field":"y","type":"quantitative","axis":null},"text":{"field":"t"}}}
]}
]
}
